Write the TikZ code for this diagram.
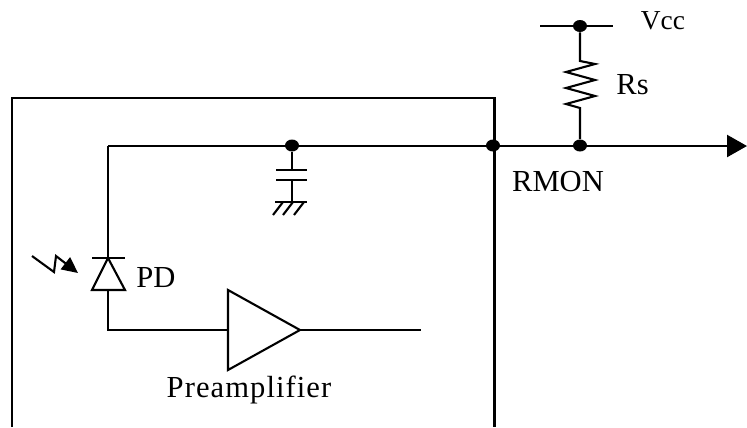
\documentclass[tikz,border=0pt]{standalone}
\usepackage{fontspec}
\setmainfont{Liberation Serif}
\usetikzlibrary{arrows.meta,positioning,shapes.geometric}

\begin{document}
\begin{tikzpicture}[
    x=0.02cm, y=-0.02cm,
    wire/.style={line width=1.35pt, line join=miter},
    thinwire/.style={line width=1.2pt},
    junction/.style={ellipse, fill=black, draw=none, inner sep=0pt, minimum width=0.28cm, minimum height=0.24cm},
    label/.style={font=\fontsize{17.4}{20}\selectfont, inner sep=0pt},
    arrow/.style={wire, -{Triangle[length=0.4cm, width=0.44cm]}}
]
    \useasboundingbox (0,0) rectangle (747,427);
    \clip (0,0) rectangle (747,427);

    % Module outline
    \coordinate (boxbl) at (12,427);
    \coordinate (boxtl) at (12,98);
    \coordinate (boxtr) at (494.5,98);
    \coordinate (boxbr) at (494.5,427);
    \draw[wire] (boxbl) -- (boxtl) -- (boxtr) -- (boxbr);

    % Junctions
    \node[junction] (capdot) at (292,145.5) {};
    \node[junction] (rmondot) at (493,145.5) {};
    \node[junction] (rsdot) at (580,145.5) {};
    \node[junction] (vccdot) at (580,26) {};

    % Signal line
    \coordinate (corner) at (108,146);
    \coordinate (output) at (747,146);
    \draw[arrow] (corner) -- (output);

    % Capacitor and ground
    \coordinate (platea) at (292,170);
    \coordinate (plateb) at (292,180);
    \coordinate (gnd) at (292,202);
    \draw[thinwire] (capdot) -- (platea);
    \draw[thinwire] (276,170) -- (307,170);
    \draw[thinwire] (276,180) -- (307,180);
    \draw[thinwire] (plateb) -- (gnd);
    \draw[thinwire] (275,202) -- (307,202);
    \foreach \hx in {283,293,304} {
        \draw[thinwire] (\hx,202) -- ++(-10,13);
    }

    % Photodiode
    \coordinate (pdtop) at (108,258);
    \coordinate (pdbase) at (108,290);
    \coordinate (pdcorner) at (108,330);
    \draw[wire] (corner) -- (pdtop);
    \draw[thinwire] (92,258) -- (125,258);
    \draw[thinwire] (pdtop) -- (92,290) -- (125,290) -- cycle;

    % Light arrow
    \coordinate (lightstart) at (32,256);
    \coordinate (lightend) at (78,273);
    \draw[thinwire, -{Triangle[length=0.32cm, width=0.3cm]}] (lightstart) -- (54,272) -- (56,256) -- (lightend);

    % Preamplifier
    \coordinate (ampin) at (228,330);
    \coordinate (ampout) at (300,330);
    \coordinate (ampend) at (421,330);
    \draw[thinwire] (228,290) -- (ampout) -- (228,370) -- cycle;
    \draw[wire] (pdbase) -- (pdcorner) -- (ampin);
    \draw[wire] (ampout) -- (ampend);

    % Vcc and Rs
    \coordinate (vccl) at (540,26);
    \coordinate (vccr) at (613,26);
    \coordinate (rstop) at (580,61);
    \coordinate (rsbot) at (580,108);
    \draw[thinwire] (vccl) -- (vccr);
    \draw[thinwire] (vccdot) -- (rstop) -- (595,64) -- (566,72) -- (595,80) -- (566,88) -- (595,96) -- (566,104) -- (rsbot) -- (rsdot);

    % Labels
    \node[label, font=\fontsize{15.6}{20}\selectfont] (vcc) at (663,21) {Vcc};
    \node[label] (rs) at (632.5,85) {Rs};
    \node[label] (rmon) at (558,182) {RMON};
    \node[label] (pd) at (156,278) {PD};
    \node[label] (preamp) at (249,390) {\addfontfeature{LetterSpace=3.5}Preamplifier};
\end{tikzpicture}
\end{document}
